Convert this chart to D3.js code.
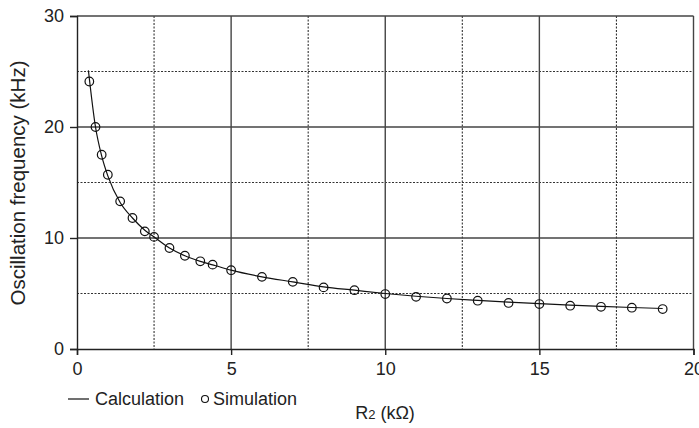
<!DOCTYPE html>
<html>
<head>
<meta charset="utf-8">
<script src="https://d3js.org/d3.v7.min.js"></script>
<style>
body { margin: 0; background: #fff; }
text { font-family: "Liberation Sans", Arial, sans-serif; fill: #222; }
</style>
</head>
<body>
<div id="chart"></div>
<script>
// calculated curve
var calcX = [0.37, 0.6, 0.8, 1.0, 1.4, 1.8, 2.2, 2.5, 3, 3.5, 4, 4.5, 5, 6, 7, 8, 9, 10, 11, 12, 13, 14, 15, 16, 17, 18, 19]
var calcY = [25.1, 20.0, 17.4, 15.6, 13.2, 11.8, 10.7, 10.1, 9.1, 8.4, 7.9, 7.5, 7.1, 6.5, 6.05, 5.6, 5.3, 5.0, 4.75, 4.55, 4.38, 4.22, 4.08, 3.95, 3.84, 3.74, 3.65]

// simulation points
var simX = [0.4, 0.6, 0.8, 1.0, 1.4, 1.8, 2.2, 2.5, 3, 3.5, 4, 4.4, 5, 6, 7, 8, 9, 10, 11, 12, 13, 14, 15, 16, 17, 18, 19]
var simY = [24.1, 20.0, 17.5, 15.7, 13.3, 11.8, 10.6, 10.1, 9.1, 8.4, 7.9, 7.6, 7.1, 6.5, 6.05, 5.55, 5.3, 4.95, 4.7, 4.55, 4.35, 4.15, 4.05, 3.9, 3.8, 3.72, 3.6]

var xMajor = [0, 5, 10, 15, 20]
var xMinor = [2.5, 7.5, 12.5, 17.5]
var yMajor = [0, 10, 20, 30]
var yMinor = [5, 15, 25]

var W = 699, H = 428
var mLeft = 77, mRight = 693.5, mTop = 16, mBottom = 349

var svg = d3.select("#chart").append("svg")
	.attr("width", W)
	.attr("height", H)

var x = d3.scaleLinear().domain([0, 20]).range([mLeft, mRight])
var y = d3.scaleLinear().domain([0, 30]).range([mBottom, mTop])

// dotted grid
svg.append("g").selectAll("line")
	.data(xMinor).enter().append("line")
	.attr("x1", d => x(d)).attr("x2", d => x(d))
	.attr("y1", mTop).attr("y2", mBottom)
	.attr("stroke", "#333").attr("stroke-width", 1.1)
	.attr("stroke-dasharray", "2,1.5")

svg.append("g").selectAll("line")
	.data(yMinor).enter().append("line")
	.attr("x1", mLeft).attr("x2", mRight)
	.attr("y1", d => y(d)).attr("y2", d => y(d))
	.attr("stroke", "#333").attr("stroke-width", 1.1)
	.attr("stroke-dasharray", "2,1.5")

// solid grid
svg.append("g").selectAll("line")
	.data(xMajor.slice(1)).enter().append("line")
	.attr("x1", d => x(d)).attr("x2", d => x(d))
	.attr("y1", mTop).attr("y2", mBottom)
	.attr("stroke", "#444").attr("stroke-width", 1.4)

svg.append("g").selectAll("line")
	.data(yMajor.slice(1)).enter().append("line")
	.attr("x1", mLeft).attr("x2", mRight)
	.attr("y1", d => y(d)).attr("y2", d => y(d))
	.attr("stroke", "#444").attr("stroke-width", 1.4)

// axes
var xAxis = d3.axisBottom(x).tickValues(xMajor).tickSize(6).tickPadding(7)
var yAxis = d3.axisLeft(y).tickValues(yMajor).tickSize(7).tickPadding(6)

var gx = svg.append("g").attr("transform", "translate(0," + mBottom + ")").call(xAxis)
var gy = svg.append("g").attr("transform", "translate(" + mLeft + ",0)").call(yAxis)

;[gx, gy].forEach(function(g){
	g.select(".domain").attr("stroke", "#222").attr("stroke-width", 1.4)
	g.selectAll(".tick line").attr("stroke", "#222").attr("stroke-width", 1.4)
	g.selectAll(".tick text").style("font-size", "18px").attr("fill", "#222")
		.style("font-family", "'Liberation Sans', Arial, sans-serif")
})

// calculation line
var calc = calcX.map((d, i) => [d, calcY[i]])
svg.append("path")
	.datum(calc)
	.attr("fill", "none")
	.attr("stroke", "#111")
	.attr("stroke-width", 1.2)
	.attr("d", d3.line().x(d => x(d[0])).y(d => y(d[1])).curve(d3.curveMonotoneX))

// simulation circles
var sim = simX.map((d, i) => [d, simY[i]])
svg.append("g").selectAll("circle")
	.data(sim).enter().append("circle")
	.attr("cx", d => x(d[0]))
	.attr("cy", d => y(d[1]))
	.attr("r", 4.3)
	.attr("fill", "none")
	.attr("stroke", "#111")
	.attr("stroke-width", 1.2)

// y label
svg.append("text")
	.attr("transform", "translate(25,183) rotate(-90)")
	.attr("text-anchor", "middle")
	.style("font-size", "20.5px")
	.text("Oscillation frequency (kHz)")

// x label
var xl = svg.append("text")
	.attr("x", 385).attr("y", 419)
	.attr("text-anchor", "middle")
	.style("font-size", "18px")
xl.append("tspan").text("R")
xl.append("tspan").style("font-size", "13px").text("2")
xl.append("tspan").text(" (kΩ)")

// legend
svg.append("line")
	.attr("x1", 68).attr("x2", 89).attr("y1", 399).attr("y2", 399)
	.attr("stroke", "#111").attr("stroke-width", 1.2)
svg.append("text").attr("x", 95).attr("y", 405).style("font-size", "18px").text("Calculation")
svg.append("circle")
	.attr("cx", 205).attr("cy", 399).attr("r", 3.5)
	.attr("fill", "none").attr("stroke", "#111").attr("stroke-width", 1.1)
svg.append("text").attr("x", 213).attr("y", 405).style("font-size", "18px").text("Simulation")
</script>
</body>
</html>
